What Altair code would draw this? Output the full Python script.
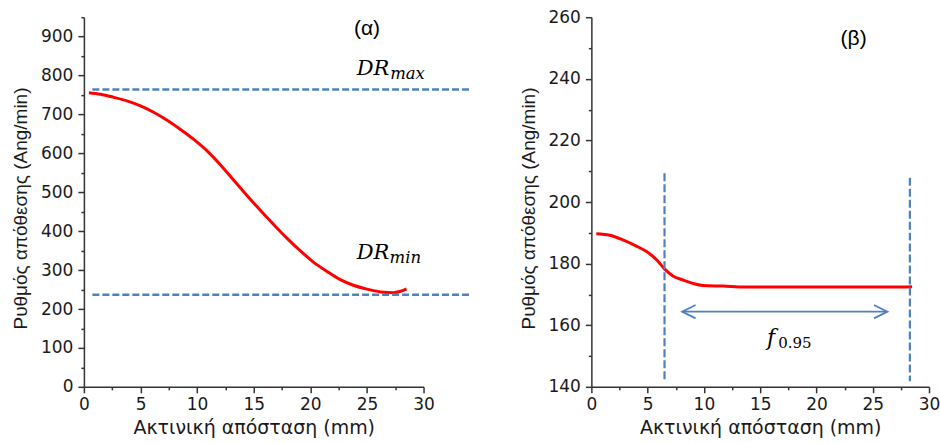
import altair as alt
import pandas as pd

# ---------------- data ----------------
left_x = [0.44, 1.47, 2.65, 3.8, 5.0, 6.2, 7.35, 8.5, 9.7, 10.9, 12.05, 13.2, 14.4, 15.6,
          16.8, 17.9, 19.1, 20.3, 21.5, 22.6, 23.8, 25.0, 26.2, 27.35, 27.9, 28.5]
left_y = [756, 752, 744, 735, 722, 705, 685, 662, 636, 606, 571, 532, 492, 453,
          416, 383, 350, 320, 296, 276, 261, 251, 244, 242, 245, 252]

right_x = [0.44, 1.63, 2.8, 4.0, 4.9, 5.76, 6.5, 7.24, 8.13, 9.0, 9.9, 11.7, 13.6, 15.8,
           18.8, 21.7, 24.7, 27.6, 28.5]
right_y = [189.7, 189.2, 187.7, 185.7, 183.9, 181.4, 178.3, 176.0, 174.7, 173.6, 172.9,
           172.7, 172.4, 172.4, 172.4, 172.4, 172.4, 172.4, 172.5]

dr_levels = [764, 236.5]          # DR_max, DR_min
dr_x_from, dr_x_to = 0.75, 34.1   # dashed lines run past the axis end

vline_x = [6.5, 28.3]
vline_top = [209.3, 207.9]
vline_bottom = [142.4, 141.8]

arrow_y = 164.4
arrow_x = [8.07, 26.3]

x_title = "Ακτινική απόσταση (mm)"
y_title = "Ρυθμός απόθεσης (Ang/min)"

BLUE = "#4f81bd"
RED = "#ff0000"
SANS = "Liberation Sans"
WIDE = "DejaVu Sans"
SERIF = "DejaVu Serif"

x_ticks = [i * 2.5 for i in range(13)]
yl_ticks = [i * 50 for i in range(20)]
yr_ticks = [140 + i * 10 for i in range(13)]


def x_axis():
    return alt.Axis(values=x_ticks, labelExpr="datum.value % 5 ? '' : datum.label",
                    tickSize={"condition": {"test": "datum.value % 5 !== 0", "value": 3}, "value": 6},
                    labelPadding=4, titlePadding=6, labelFlush=False, labelOverlap=False)


def y_axis(step):
    return alt.Axis(values=yl_ticks if step == 100 else yr_ticks,
                    labelExpr=f"datum.value % {step} ? '' : datum.label",
                    tickSize={"condition": {"test": f"datum.value % {step} !== 0", "value": 3}, "value": 6},
                    labelPadding=5, titleX=-53, titleY=191, labelFlush=False, labelOverlap=False)


def X(field, **kw):
    return alt.X(field, type="quantitative", scale=alt.Scale(domain=[0, 30], nice=False),
                 axis=x_axis(), title=x_title, **kw)


def Y(field, dom, step):
    return alt.Y(field, type="quantitative", scale=alt.Scale(domain=dom, nice=False),
                 axis=y_axis(step), title=y_title)


# ---------------- left panel (α) ----------------
LD = [0, 950]
left_curve = alt.Chart(pd.DataFrame({"x": left_x, "y": left_y})).mark_line(
    color=RED, strokeWidth=3, interpolate="monotone").encode(x=X("x"), y=Y("y", LD, 100))

dr_df = pd.DataFrame({"x": [dr_x_from] * 2, "x2": [dr_x_to] * 2, "y": dr_levels})
dr_rules = alt.Chart(dr_df).mark_rule(color=BLUE, strokeWidth=2.5, strokeDash=[7, 3], clip=False).encode(
    x=X("x"), x2="x2:Q", y=Y("y", LD, 100))

lab_l = pd.DataFrame({"x": [24.1, 24.1], "y": [801, 327.6], "t": ["DR", "DR"]})
sub_l = pd.DataFrame({"x": [27.05, 27.0], "y": [790, 317.3], "t": ["max", "min"]})
dr_text = alt.Chart(lab_l).mark_text(font=SERIF, fontSize=21, fontStyle="italic", align="left",
                                     baseline="alphabetic", color="black").encode(
    x=X("x"), y=Y("y", LD, 100), text="t:N")
dr_sub = alt.Chart(sub_l).mark_text(font=SERIF, fontSize=16.5, fontStyle="italic", align="left",
                                    baseline="alphabetic", color="black").encode(
    x=X("x"), y=Y("y", LD, 100), text="t:N")
alpha = alt.Chart(pd.DataFrame({"x": [25.0], "y": [919], "t": ["(α)"]})).mark_text(
    font=SANS, fontSize=21, color="black").encode(x=X("x"), y=Y("y", LD, 100), text="t:N")

left = alt.layer(left_curve, dr_rules, dr_text, dr_sub, alpha).properties(width=340, height=370)

# ---------------- right panel (β) ----------------
RD = [140, 260]
right_curve = alt.Chart(pd.DataFrame({"x": right_x, "y": right_y})).mark_line(
    color=RED, strokeWidth=3, interpolate="monotone").encode(x=X("x"), y=Y("y", RD, 20))

vl_df = pd.DataFrame({"x": vline_x, "y": vline_top, "y2": vline_bottom})
vlines = alt.Chart(vl_df).mark_rule(color=BLUE, strokeWidth=2.2, strokeDash=[8, 3]).encode(
    x=X("x"), y=Y("y", RD, 20), y2="y2:Q")

arr_df = pd.DataFrame({"x": [arrow_x[0]], "x2": [arrow_x[1]], "y": [arrow_y]})
arrow_line = alt.Chart(arr_df).mark_rule(color=BLUE, strokeWidth=1.8).encode(
    x=X("x"), x2="x2:Q", y=Y("y", RD, 20))
heads_df = pd.DataFrame({"x": arrow_x, "y": [arrow_y] * 2, "side": ["l", "r"]})
head_l = alt.Chart(heads_df[heads_df.side == "l"]).mark_point(
    shape="M 2 -1 L 0 0 L 2 1", size=180, filled=False, color=BLUE, strokeWidth=1.8, opacity=1).encode(
    x=X("x"), y=Y("y", RD, 20))
head_r = alt.Chart(heads_df[heads_df.side == "r"]).mark_point(
    shape="M -2 -1 L 0 0 L -2 1", size=180, filled=False, color=BLUE, strokeWidth=1.8, opacity=1).encode(
    x=X("x"), y=Y("y", RD, 20))

f_text = alt.Chart(pd.DataFrame({"x": [15.6], "y": [153.7], "t": ["f"]})).mark_text(
    font=SERIF, fontSize=22, fontStyle="italic", align="left", baseline="alphabetic", color="black").encode(
    x=X("x"), y=Y("y", RD, 20), text="t:N")
f_sub = alt.Chart(pd.DataFrame({"x": [16.6], "y": [152.5], "t": ["0.95"]})).mark_text(
    font=SERIF, fontSize=15, align="left", baseline="alphabetic", color="black").encode(
    x=X("x"), y=Y("y", RD, 20), text="t:N")
beta = alt.Chart(pd.DataFrame({"x": [23.3], "y": [252.9], "t": ["(β)"]})).mark_text(
    font=SANS, fontSize=21, color="black").encode(x=X("x"), y=Y("y", RD, 20), text="t:N")

right = alt.layer(right_curve, vlines, arrow_line, head_l, head_r, f_text, f_sub, beta).properties(
    width=338, height=370)

chart = alt.hconcat(left, right, spacing=168, bounds="flush").properties(
    padding={"left": 12, "top": 8, "right": 0, "bottom": 0},
    background="white",
).configure_view(stroke=None).configure_axis(
    domainColor="#333333", domainWidth=1.5, tickColor="#333333", tickWidth=1.5,
    labelFont=WIDE, labelFontSize=17, labelColor="#1a1a1a",
    titleFontWeight="normal", titleColor="#1a1a1a",
    grid=False
).configure_axisX(
    titleFont=WIDE, titleFontSize=19
).configure_axisY(
    titleFont=SANS, titleFontSize=19
)

chart.save("out.html", embed_options={"renderer": "svg", "actions": False})
